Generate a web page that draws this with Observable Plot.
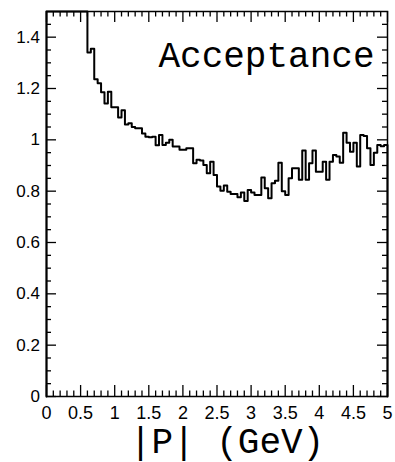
<!DOCTYPE html>
<html>
<head>
<meta charset="utf-8">
<script src="https://cdn.jsdelivr.net/npm/d3@7"></script>
<script src="https://cdn.jsdelivr.net/npm/@observablehq/plot@0.6"></script>
<style>
  html, body { margin: 0; padding: 0; background: #fff; }
  #chart svg { display: block; }
</style>
</head>
<body>
<div id="chart"></div>
<script>
// Histogram: 100 bins of width 0.05 GeV from 0 to 5 GeV (first bins clipped at the top of the frame)
const binWidth = 0.05;
const acceptance = [
  1.5, 1.5, 1.5, 1.5, 1.5, 1.5, 1.5, 1.5, 1.5, 1.5,
  1.5, 1.5, 1.34, 1.355, 1.236, 1.22, 1.185, 1.142, 1.187, 1.127,
  1.127, 1.087, 1.115, 1.06, 1.065, 1.05, 1.045, 1.045, 1.025, 1.012,
  1.01, 1.012, 0.979, 1.019, 0.98, 0.989, 1.0, 0.974, 0.974, 0.961,
  0.961, 0.967, 0.967, 0.909, 0.922, 0.919, 0.902, 0.870, 0.915, 0.863,
  0.818, 0.802, 0.822, 0.798, 0.789, 0.789, 0.776, 0.795, 0.762, 0.805,
  0.795, 0.785, 0.785, 0.853, 0.811, 0.772, 0.831, 0.841, 0.911, 0.80,
  0.785, 0.850, 0.889, 0.889, 0.844, 0.958, 0.844, 0.909, 0.958, 0.876,
  0.876, 0.915, 0.844, 0.915, 0.941, 0.935, 0.911, 1.028, 0.989, 0.954,
  0.989, 0.896, 1.019, 1.015, 0.967, 0.902, 0.950, 0.980, 0.975, 0.980
];

const xDomain = [0, 5];
const yDomain = [0, 1.5];

const xMajorTicks = [0, 0.5, 1, 1.5, 2, 2.5, 3, 3.5, 4, 4.5, 5];
const xMajorLabels = ["0", "0.5", "1", "1.5", "2", "2.5", "3", "3.5", "4", "4.5", "5"];
const xMinorTicks = [0.1,0.2,0.3,0.4,0.6,0.7,0.8,0.9,1.1,1.2,1.3,1.4,1.6,1.7,1.8,1.9,2.1,2.2,2.3,2.4,2.6,2.7,2.8,2.9,3.1,3.2,3.3,3.4,3.6,3.7,3.8,3.9,4.1,4.2,4.3,4.4,4.6,4.7,4.8,4.9];

const yMajorTicks = [0, 0.2, 0.4, 0.6, 0.8, 1, 1.2, 1.4];
const yMajorLabels = ["0", "0.2", "0.4", "0.6", "0.8", "1", "1.2", "1.4"];
const yMinorTicks = [0.05,0.1,0.15,0.25,0.3,0.35,0.45,0.5,0.55,0.65,0.7,0.75,0.85,0.9,0.95,1.05,1.1,1.15,1.25,1.3,1.35,1.45];

const title = "Acceptance";
const xTitle = "|P| (GeV)";

// build step outline from the bins
const outline = [{x: xDomain[0], y: 0}];
acceptance.forEach((v, i) => outline.push({x: i * binWidth, y: v}));
outline.push({x: xDomain[1], y: acceptance[acceptance.length - 1]});
outline.push({x: xDomain[1], y: 0});

const xLab = new Map(xMajorTicks.map((t, i) => [t, xMajorLabels[i]]));
const yLab = new Map(yMajorTicks.map((t, i) => [t, yMajorLabels[i]]));
const sans = "Liberation Sans, Arial, sans-serif";
const mono = "Liberation Mono, Courier New, monospace";

const W = 395, H = 462, ML = 46, MR = 8, MT = 11, MB = 66;
const FW = W - ML - MR, FH = H - MT - MB;
const YMAJ = 10, YMIN = 5, XMAJ = 11, XMIN = 5.5;

// inward tick marks as short rules, via insets
const tickL = (ticks, len) => Plot.ruleY(ticks, {y: d => d, insetRight: FW - len, stroke: "black", strokeWidth: 1.3});
const tickR = (ticks, len) => Plot.ruleY(ticks, {y: d => d, insetLeft: FW - len, stroke: "black", strokeWidth: 1.3});
const tickB = (ticks, len) => Plot.ruleX(ticks, {x: d => d, insetTop: FH - len, stroke: "black", strokeWidth: 1.3});
const tickT = (ticks, len) => Plot.ruleX(ticks, {x: d => d, insetBottom: FH - len, stroke: "black", strokeWidth: 1.3});

const chart = Plot.plot({
  width: W,
  height: H,
  marginLeft: ML,
  marginRight: MR,
  marginTop: MT,
  marginBottom: MB,
  x: {domain: xDomain, axis: null},
  y: {domain: yDomain, axis: null},
  style: {fontFamily: sans, background: "white", color: "black"},
  marks: [
    Plot.line(outline, {x: "x", y: "y", curve: "step-after", stroke: "black", strokeWidth: 2}),
    Plot.frame({stroke: "black", strokeWidth: 1.5}),
    tickL(yMajorTicks, YMAJ), tickL(yMinorTicks, YMIN),
    tickR(yMajorTicks, YMAJ), tickR(yMinorTicks, YMIN),
    tickB(xMajorTicks, XMAJ), tickB(xMinorTicks, XMIN),
    tickT(xMajorTicks, XMAJ), tickT(xMinorTicks, XMIN),
    // tick labels
    Plot.text(yMajorTicks, {y: d => d, text: d => yLab.get(d), frameAnchor: "left", textAnchor: "end", dx: -6.5, fontSize: 17, fill: "black"}),
    Plot.text(xMajorTicks, {x: d => d, text: d => xLab.get(d), frameAnchor: "bottom", lineAnchor: "top", dy: 10, fontSize: 18, fill: "black"}),
    // titles
    Plot.text([title], {frameAnchor: "top-right", text: d => d, textAnchor: "end", lineAnchor: "bottom", dx: -13, dy: 55, fontFamily: mono, fontSize: 36, fill: "black"}),
    Plot.text([xTitle], {frameAnchor: "bottom", text: d => d, textAnchor: "middle", lineAnchor: "bottom", dx: 10, dy: 56, fontFamily: mono, fontSize: 36, fill: "black"})
  ]
});
document.getElementById("chart").appendChild(chart);
</script>
</body>
</html>
